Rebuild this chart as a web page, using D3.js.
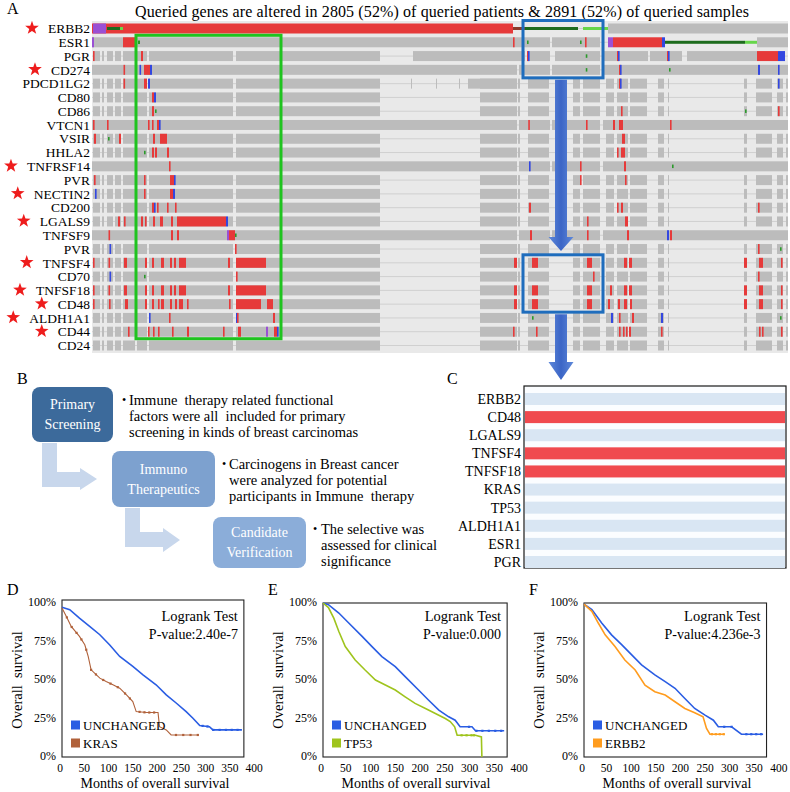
<!DOCTYPE html>
<html><head><meta charset="utf-8">
<script src="https://cdn.jsdelivr.net/npm/d3@7"></script>
<style>
html,body{margin:0;padding:0;background:#fff;}
svg{display:block;}
svg text{font-family:"Liberation Serif","Tinos","DejaVu Serif","Times New Roman",serif;}
</style></head><body>
<svg id="fig" width="790" height="792"></svg>
<script>
// ================= DATA =================
const titleText = "Queried genes are altered in 2805 (52%) of queried patients & 2891 (52%) of queried samples";
const totalSamples = 5568;
const genes = ["ERBB2","ESR1","PGR","CD274","PDCD1LG2","CD80","CD86","VTCN1","VSIR","HHLA2","TNFRSF14","PVR","NECTIN2","CD200","LGALS9","TNFSF9","PVR","TNFSF4","CD70","TNFSF18","CD48","ALDH1A1","CD44","CD24"];
const starredRows = [0,3,10,12,14,17,19,20,21,22];
// profiled sample ranges (sample index)
const segLeft = [[8,64],[80,96],[120,168],[184,232],[248,344],[360,440],[456,1128],[1152,2304]];
const segRight = [[3104,3400],[3408,3424],[3488,3656],[3848,3904],[3928,4064],[4112,4176],[4200,4288],[4304,4440],[4528,4576],[4608,4616],[5216,5240],[5312,5440],[5480,5528],[5552,5568]];
const segFull = [[0,3400],[3416,3664],[3680,4064],[4088,5568]];
const segPGRRight = [[2568,3464],[3480,3664],[3704,4064],[4088,4448],[4464,4600],[4608,4720],[4760,5320]];
const segPDExtra = [[2552,2560],[2752,2760],[2936,2944],[3008,3400]];
const segESR1 = [[0,3664],[3680,4064],[5320,5568]];
const segERBB2 = [[4128,5568]];
const rowProfile = ["erbb2","esr1","pgr","full","pd","part","part","full","part","part","full","part","part","part","part","full","part","part","part","part","part","part","part","part"];
// alterations: [start, end, type]  A=amplification, D=deep deletion, P=multiple, M=mutation, S=structural, L=other, X=fusion
const altTNFSF4 = [[8,20,"A"],[132,140,"A"],[256,280,"A"],[424,440,"A"],[480,496,"A"],[552,576,"A"],[624,640,"A"],[656,672,"A"],[696,752,"A"],[1088,1104,"A"],[1152,1392,"A"],[3376,3400,"A"],[3520,3568,"A"],[3960,4000,"A"],[4256,4280,"A"],[4296,4320,"A"],[5216,5240,"A"],[5336,5368,"A"],[5512,5520,"A"]];
const alterations = [
  /*ERBB2*/ [[0,3368,"A"],[8,80,"P"],[80,112,"P"],[120,224,"S"],[224,248,"L"],[3368,3464,"X"],[3464,3888,"S"],[3928,4128,"L"]],
  /*ESR1*/ [[0,16,"P"],[248,344,"A"],[344,360,"D"],[368,384,"M"],[3368,3380,"A"],[3480,3490,"M"],[3904,3912,"M"],[3944,3952,"A"],[4128,4168,"P"],[4168,4560,"A"],[4560,4584,"D"],[4584,5224,"S"],[5224,5320,"L"]],
  /*PGR*/ [[8,16,"A"],[392,408,"A"],[3480,3488,"A"],[3488,3496,"D"],[3950,3958,"M"],[4200,4208,"A"],[4208,4214,"D"],[4600,4608,"A"],[4608,4614,"D"],[5320,5488,"A"],[5488,5544,"D"]],
  /*CD274*/ [[252,260,"A"],[380,388,"D"],[416,464,"A"],[464,480,"D"],[3950,3958,"M"],[4216,4224,"A"],[4224,4232,"D"],[4616,4624,"M"],[5328,5344,"D"],[5488,5496,"D"]],
  /*PDCD1LG2*/ [[252,260,"A"],[416,440,"A"],[448,464,"D"],[4216,4224,"A"],[4224,4232,"D"],[5488,5496,"D"]],
  /*CD80*/ [[480,496,"A"],[496,512,"D"]],
  /*CD86*/ [[480,496,"A"],[504,512,"M"],[4232,4240,"A"],[5224,5232,"M"],[5488,5496,"A"]],
  /*VTCN1*/ [[8,16,"A"],[120,132,"A"],[448,456,"A"],[480,488,"A"],[520,536,"A"],[536,548,"D"],[3490,3502,"A"],[3952,3960,"A"],[4168,4184,"A"],[4216,4248,"A"],[4624,4632,"A"]],
  /*VSIR*/ [[16,32,"A"],[128,136,"M"],[216,232,"A"],[488,504,"A"],[544,600,"A"],[4240,4264,"A"]],
  /*HHLA2*/ [[416,424,"M"],[480,496,"A"],[504,520,"A"],[600,616,"A"],[4200,4208,"A"],[4232,4264,"A"]],
  /*TNFRSF14*/ [[616,624,"A"],[3496,3504,"D"],[3904,3912,"A"],[4256,4272,"A"],[4640,4648,"M"]],
  /*PVR*/ [[16,24,"A"],[416,424,"A"],[624,656,"A"],[656,664,"D"],[3904,3912,"A"],[4264,4272,"A"]],
  /*NECTIN2*/ [[24,36,"D"],[416,424,"A"],[624,648,"A"],[648,664,"D"]],
  /*CD200*/ [[480,496,"A"],[496,504,"D"],[520,528,"A"],[600,608,"A"],[664,672,"A"],[3496,3512,"A"],[4200,4208,"A"],[4232,4248,"A"],[5328,5336,"A"]],
  /*LGALS9*/ [[208,224,"A"],[256,268,"A"],[392,408,"A"],[424,436,"A"],[488,504,"A"],[544,568,"A"],[632,648,"A"],[680,1072,"A"],[1072,1088,"D"],[3960,3968,"A"],[4264,4288,"A"]],
  /*TNFSF9*/ [[132,140,"A"],[632,648,"A"],[680,696,"A"],[1080,1096,"P"],[1096,1144,"A"],[1144,1152,"M"],[3504,3520,"A"],[3960,3968,"A"],[4280,4296,"A"],[4600,4616,"D"],[4624,4640,"A"]],
  /*PVR*/ [[140,152,"D"],[1144,1152,"A"],[5328,5336,"A"],[5504,5512,"M"]],
  /*TNFSF4*/ altTNFSF4,
  /*CD70*/ [[140,152,"D"],[416,424,"M"],[1152,1160,"A"],[4008,4016,"A"],[5328,5336,"A"]],
  /*TNFSF18*/ altTNFSF4.concat([[4144,4160,"A"]]),
  /*CD48*/ [[8,20,"A"],[136,144,"A"],[264,288,"A"],[424,440,"A"],[480,496,"A"],[528,536,"A"],[552,576,"A"],[624,640,"A"],[664,680,"A"],[696,728,"A"],[760,768,"A"],[1096,1104,"A"],[1152,1352,"A"],[1400,1448,"A"],[3376,3400,"A"],[3520,3568,"A"],[3960,4000,"A"],[4128,4144,"A"],[4208,4224,"A"],[4256,4280,"A"],[4304,4320,"A"],[5216,5240,"A"],[5336,5368,"A"],[5512,5520,"A"]],
  /*ALDH1A1*/ [[456,464,"D"],[616,624,"A"],[1152,1160,"D"],[1160,1168,"A"],[1448,1464,"A"],[3520,3528,"M"],[4152,4168,"D"],[4216,4224,"A"],[4320,4336,"A"],[4552,4568,"D"],[5504,5512,"M"]],
  /*CD44*/ [[288,296,"A"],[448,456,"A"],[488,496,"A"],[528,536,"A"],[640,648,"A"],[760,776,"A"],[1048,1056,"A"],[1168,1192,"A"],[1392,1408,"P"],[1456,1480,"A"],[1480,1488,"D"],[3368,3376,"A"],[3552,3560,"A"],[4216,4224,"A"],[4248,4256,"A"],[4272,4280,"A"],[4296,4312,"A"],[4552,4560,"A"],[5336,5344,"A"],[5360,5368,"A"],[5512,5520,"A"]],
  /*CD24*/ []
];
// highlighted regions [sampleStart, sampleEnd, rowFrom, rowTo]
const greenBox = [352,1512,1,22];
const blueBoxTop = [3448,4088,0,3];
const blueBoxBottom = [3448,4088,17,20];

// Panel B
const steps = [
  {title:["Primary","Screening"], text:["Immune  therapy related functional","factors were all  included for primary","screening in kinds of breast carcinomas"]},
  {title:["Immuno","Therapeutics"], text:["Carcinogens in Breast cancer","were analyzed for potential","participants in Immune  therapy"]},
  {title:["Candidate","Verification"], text:["The selective was","assessed for clinical","significance"]}
];

// Panel C
const cGenes = ["ERBB2","CD48","LGALS9","TNFSF4","TNFSF18","KRAS","TP53","ALDH1A1","ESR1","PGR"];
const cAltered = [false,true,false,true,true,false,false,false,false,false];

// Panels D-F: Kaplan-Meier curves [months, survival %]
const xTickVals = [0,50,100,150,200,250,300,350,400];
const yTickVals = [0,25,50,75,100];
const kmD_unchanged = [[0,97.2],[16,95.7],[36,90.2],[57,84.8],[78,79.4],[98,72.9],[119,65.3],[146,58.8],[167,53.4],[194,46.9],[215,40.3],[236,34.9],[256,29.5],[270,25.2],[284,20.4],[304,19.7],[311,17.6],[371,17.6]];
const kmD_kras = [[0,96.7],[9,91.3],[19,84.8],[36,78.3],[47,72.9],[54,65.3],[60,56.6],[78,51.2],[91,49.0],[105,46.9],[119,44.7],[133,40.3],[146,36.0],[153,29.5],[174,28.9],[198,28.9],[201,19.7],[215,17.6],[225,14.3],[282,14.3]];
const kmE_unchanged = [[0,100],[11,98.9],[32,93.5],[52,87],[79,78.3],[99,71.7],[119,65.2],[146,58.7],[166,52.2],[193,43.5],[213,37],[234,30.4],[254,26.1],[267,23.9],[277,19.6],[301,19.6],[308,17],[366,17]];
const kmE_tp53 = [[0,100],[11,97],[22,90],[32,81.5],[45,71.7],[65,63],[85,56.5],[106,50],[126,46.7],[146,43.5],[166,39.1],[186,34.8],[207,31.5],[227,28.3],[247,25],[257,23],[266,19.6],[271,14.1],[308,14.1],[320,13],[321,0]];
const kmF_unchanged = [[0,99.3],[16,95.7],[36,87],[56,79.3],[77,72.8],[97,66.3],[117,59.8],[144,53.3],[165,48.9],[185,44.6],[205,38],[225,31.5],[246,27.2],[263,23.9],[273,19.6],[300,19.6],[320,14.8],[364,14.8]];
const kmF_erbb2 = [[0,99.3],[16,94.6],[29,87],[43,79.3],[63,71.7],[83,63],[104,56.5],[124,46.7],[144,42.4],[165,40.2],[185,35.9],[205,31.5],[225,28.7],[242,26.1],[249,18.5],[256,14.8],[286,14.8]];
const censorD_unchanged = [290,300,312,325,338,350,362];
const censorD_kras = [10,20,30,40,50,60,70,85,100,115,130,140,160,170,180,190,235,250,265,280];
const censorE_unchanged = [295,310,322,335,348,360];
const censorE_tp53 = [280,290,300,305];
const censorF_unchanged = [285,300,330,340,350,360];
const censorF_erbb2 = [260,268,276,284];

// ================= DRAW =================
const svg = d3.select("#fig");
const colAmp="#e63a3a", colDel="#3347e0", colMulti="#9a50d4", colMut="#2a9a2a", colSV="#1d6b1d", colOther="#66d64a", colFus="#8a3b2b", colGray="#bcbcbc";

function star(g, cx, cy, R, r){
  const pts=[];
  for(let k=0;k<10;k++){const a=-Math.PI/2+k*Math.PI/5; const rr=k%2?r:R; pts.push([cx+rr*Math.cos(a), cy+rr*Math.sin(a)]);}
  g.append("polygon").attr("points",pts.map(p=>p.join(",")).join(" ")).attr("fill","#ee1c1c");
}

// ---- Panel A ----
const A = svg.append("g");
A.append("text").attr("x",7).attr("y",14).attr("font-size",16).text("A");
A.append("text").attr("x",135).attr("y",17).attr("font-size",16).attr("textLength",614).text(titleText);
const xs = d3.scaleLinear().domain([0,totalSamples]).range([92,788]);
const ys = d3.scalePoint().domain(d3.range(genes.length)).range([28.5,345.5]);
const barH = 10;
A.append("rect").attr("x",xs(0)).attr("y",21).attr("width",xs(totalSamples)-xs(0)).attr("height",332).attr("fill","#e9e9e9");
function profileSegs(p){
  if(p==="part") return segLeft.concat(segRight);
  if(p==="full") return segFull;
  if(p==="pgr") return segLeft.concat(segPGRRight);
  if(p==="pd") return segLeft.concat(segPDExtra, segRight);
  if(p==="esr1") return segESR1;
  if(p==="erbb2") return segERBB2;
  return [];
}
genes.forEach((gname,i)=>{
  const cy = ys(i);
  A.append("line").attr("x1",xs(0)).attr("x2",xs(totalSamples)).attr("y1",cy).attr("y2",cy).attr("stroke","#d0d0d0").attr("stroke-width",1);
  profileSegs(rowProfile[i]).forEach(s=>{
    A.append("rect").attr("x",xs(s[0])).attr("y",cy-barH/2).attr("width",Math.max(1,xs(s[1])-xs(s[0]))).attr("height",barH).attr("fill",colGray);
  });
  alterations[i].forEach(a=>{
    const w=Math.max(1.6,xs(a[1])-xs(a[0]));
    let col, h;
    switch(a[2]){
      case "A": col=colAmp; h=barH; break;
      case "D": col=colDel; h=barH; break;
      case "P": col=colMulti; h=barH; break;
      case "M": col=colMut; h=3.5; break;
      case "S": col=colSV; h=3; break;
      case "L": col=colOther; h=3; break;
      case "X": col=colFus; h=3; break;
    }
    A.append("rect").attr("x",xs(a[0])).attr("y",cy-h/2).attr("width",w).attr("height",h).attr("fill",col);
  });
  const t = A.append("text").attr("x",90).attr("y",cy).attr("dy","0.35em").attr("text-anchor","end").attr("font-size",13.5).text(gname);
  if(starredRows.includes(i)){
    const len = t.node().getComputedTextLength();
    star(A, Math.max(8, 90-len-16), cy-0.5, 7.2, 2.9);
  }
});
function hiBox(b, col, pad){
  const x0=xs(b[0]), x1=xs(b[1]);
  const y0=ys(b[2])-barH/2-pad, y1=ys(b[3])+barH/2+pad;
  A.append("rect").attr("x",x0).attr("y",y0).attr("width",x1-x0).attr("height",y1-y0).attr("fill","none").attr("stroke",col).attr("stroke-width",3);
  return [x0,y0,x1,y1];
}
hiBox(greenBox,"#1fc31f",2);
const bt = hiBox(blueBoxTop,"#1f6dbd",3);
const bb = hiBox(blueBoxBottom,"#1f6dbd",3);

// Blue arrows
const defs = svg.append("defs");
const grad = defs.append("linearGradient").attr("id","ag").attr("x1","0").attr("x2","1").attr("y1","0").attr("y2","0");
grad.append("stop").attr("offset","0").attr("stop-color","#5f89da");
grad.append("stop").attr("offset","0.5").attr("stop-color","#3b65c6");
grad.append("stop").attr("offset","1").attr("stop-color","#5f89da");
function blueArrow(cx, yTop, yHeadStart, yTip){
  svg.append("polygon").attr("points",[[cx-6,yTop],[cx+6,yTop],[cx+6,yHeadStart],[cx+12.5,yHeadStart],[cx,yTip],[cx-12.5,yHeadStart],[cx-6,yHeadStart]].map(p=>p.join(",")).join(" ")).attr("fill","url(#ag)");
}
const acx = (bt[0]+bt[2])/2 - 2;
blueArrow(acx, bt[3]+2, 237, 251);
blueArrow(acx, bb[3]+2, 362, 380);

// ---- Panel B ----
const B = svg.append("g");
B.append("text").attr("x",17).attr("y",384).attr("font-size",16).text("B");
const arrowCol = "#c8d7ec";
B.append("polygon").attr("points","42,443 57,443 57,472 80,472 80,468 97,479 80,490 80,487 42,487").attr("fill",arrowCol);
B.append("polygon").attr("points","125,508 140,508 140,532 163,532 163,528 180,540 163,552 163,547 125,547").attr("fill",arrowCol);
const boxes = [{x:32,y:387,w:81,h:55,c:"#3c6a9b"},{x:112,y:451,w:103,h:56,c:"#7da1cf"},{x:213,y:517,w:93,h:51,c:"#8badd9"}];
const textPos = [{bx:122,tx:129,y:400},{bx:222,tx:229,y:464},{bx:313,tx:321,y:529}];
steps.forEach((s,i)=>{
  const b=boxes[i];
  B.append("rect").attr("x",b.x).attr("y",b.y).attr("width",b.w).attr("height",b.h).attr("rx",8).attr("fill",b.c);
  s.title.forEach((ln,k)=>{
    B.append("text").attr("x",b.x+b.w/2).attr("y",b.y+b.h/2+(k===0?-10:10)).attr("dy","0.35em").attr("text-anchor","middle").attr("font-size",14).attr("fill","#ffffff").text(ln);
  });
  const tp=textPos[i];
  B.append("text").attr("x",tp.bx).attr("y",tp.y).attr("dy","0.35em").attr("font-size",12).text("•");
  s.text.forEach((ln,k)=>{
    B.append("text").attr("x",tp.tx).attr("y",tp.y+k*16.2).attr("dy","0.35em").attr("font-size",14.5).attr("xml:space","preserve").style("white-space","pre").text(ln);
  });
});

// ---- Panel C ----
const C = svg.append("g");
C.append("text").attr("x",447).attr("y",384).attr("font-size",16).text("C");
const cx0=524, cx1=786, cy0=386, cy1=568;
C.append("rect").attr("x",cx0).attr("y",cy0).attr("width",cx1-cx0).attr("height",cy1-cy0).attr("fill","#fbfdff").attr("stroke","#1a1a1a").attr("stroke-width",1.2);
const cy = d3.scalePoint().domain(cGenes).range([399,562]);
cGenes.forEach((gn,i)=>{
  C.append("rect").attr("x",cx0+1).attr("y",cy(gn)-6).attr("width",cx1-cx0-2).attr("height",12).attr("fill",cAltered[i]?"#f04a4f":"#d9e6f3");
  C.append("text").attr("x",cx0-3).attr("y",cy(gn)).attr("dy","0.35em").attr("text-anchor","end").attr("font-size",14).text(gn);
});

// ---- KM panels ----
function onLine(data,t){
  for(let k=1;k<data.length;k++){
    if(t<=data[k][0]){const a=data[k-1],b=data[k];const f=(t-a[0])/((b[0]-a[0])||1);return a[1]+f*(b[1]-a[1]);}
  }
  return data[data.length-1][1];
}
function kmPanel(cfg){
  const g=svg.append("g");
  const x=d3.scaleLinear().domain([0,400]).range([cfg.left,cfg.left+cfg.per50*8]);
  const y=d3.scaleLinear().domain([0,100]).range([757,603]);
  g.append("text").attr("x",cfg.left-55).attr("y",595).attr("font-size",16).text(cfg.label);
  g.append("rect").attr("x",cfg.left).attr("y",cfg.top).attr("width",x(cfg.boxMax)-cfg.left).attr("height",757-cfg.top).attr("fill","none").attr("stroke","#222").attr("stroke-width",1.1);
  xTickVals.forEach(t=>g.append("text").attr("x",x(t)-2).attr("y",768).attr("dy","0.35em").attr("text-anchor","middle").attr("font-size",11.5).text(t));
  yTickVals.forEach(t=>g.append("text").attr("x",cfg.left-6).attr("y",y(t)-1).attr("dy","0.35em").attr("text-anchor","end").attr("font-size",12).text(t+"%"));
  g.append("text").attr("transform",`translate(${cfg.left-45},680) rotate(-90)`).attr("dy","0.35em").attr("text-anchor","middle").attr("font-size",14.5).attr("xml:space","preserve").style("white-space","pre").text("Overall  survival");
  g.append("text").attr("x",cfg.left+93).attr("y",783.5).attr("dy","0.35em").attr("text-anchor","middle").attr("font-size",14).text("Months of overall survival");
  const line=d3.line().x(d=>x(d[0])).y(d=>y(d[1]));
  cfg.series.forEach(s=>{
    g.append("path").attr("d",line(s.data)).attr("fill","none").attr("stroke",s.color).attr("stroke-width",s.w||1.6);
    s.censor.forEach(t=>g.append("rect").attr("x",x(t)-1.1).attr("y",y(onLine(s.data,t))-1.1).attr("width",2.2).attr("height",2.2).attr("fill",s.color));
  });
  const rx = x(cfg.boxMax)-6;
  g.append("text").attr("x",rx).attr("y",616).attr("dy","0.35em").attr("text-anchor","end").attr("font-size",14.5).text("Logrank Test");
  g.append("text").attr("x",rx).attr("y",634).attr("dy","0.35em").attr("text-anchor","end").attr("font-size",14).text(cfg.p);
  cfg.series.forEach((s,k)=>{
    const ly=725+k*18;
    g.append("rect").attr("x",cfg.left+9).attr("y",ly-4.5).attr("width",9).attr("height",9).attr("fill",s.color);
    g.append("text").attr("x",cfg.left+21).attr("y",ly).attr("dy","0.35em").attr("font-size",13).text(s.name);
  });
}
kmPanel({label:"D",left:62,per50:24.25,top:600,boxMax:375,p:"P-value:2.40e-7",
  series:[{name:"UNCHANGED",color:"#2a5de3",data:kmD_unchanged,censor:censorD_unchanged},
          {name:"KRAS",color:"#b0613a",data:kmD_kras,censor:censorD_kras,w:1.1}]});
kmPanel({label:"E",left:323,per50:24.75,top:603,boxMax:372,p:"P-value:0.000",
  series:[{name:"UNCHANGED",color:"#2a5de3",data:kmE_unchanged,censor:censorE_unchanged},
          {name:"TP53",color:"#9fc41d",data:kmE_tp53,censor:censorE_tp53}]});
kmPanel({label:"F",left:584,per50:24.6,top:603,boxMax:371,p:"P-value:4.236e-3",
  series:[{name:"UNCHANGED",color:"#2a5de3",data:kmF_unchanged,censor:censorF_unchanged},
          {name:"ERBB2",color:"#ff9c1e",data:kmF_erbb2,censor:censorF_erbb2}]});
</script>
</body></html>
